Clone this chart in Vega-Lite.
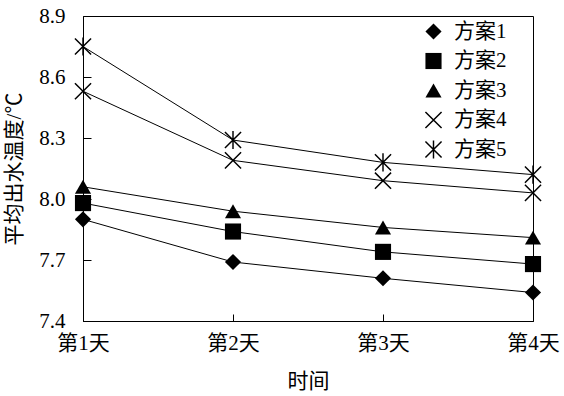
{
  "$schema": "https://vega.github.io/schema/vega-lite/v6.json",
  "width": 450,
  "height": 305,
  "autosize": {"type": "none"},
  "padding": {"left": 83, "top": 16, "right": 31, "bottom": 75},
  "background": "white",
  "data": {
    "values": [
      {"时间": "第1天", "方案": "方案1", "温度": 7.90},
      {"时间": "第2天", "方案": "方案1", "温度": 7.69},
      {"时间": "第3天", "方案": "方案1", "温度": 7.61},
      {"时间": "第4天", "方案": "方案1", "温度": 7.54},
      {"时间": "第1天", "方案": "方案2", "温度": 7.98},
      {"时间": "第2天", "方案": "方案2", "温度": 7.84},
      {"时间": "第3天", "方案": "方案2", "温度": 7.74},
      {"时间": "第4天", "方案": "方案2", "温度": 7.68},
      {"时间": "第1天", "方案": "方案3", "温度": 8.06},
      {"时间": "第2天", "方案": "方案3", "温度": 7.94},
      {"时间": "第3天", "方案": "方案3", "温度": 7.86},
      {"时间": "第4天", "方案": "方案3", "温度": 7.81},
      {"时间": "第1天", "方案": "方案4", "温度": 8.53},
      {"时间": "第2天", "方案": "方案4", "温度": 8.19},
      {"时间": "第3天", "方案": "方案4", "温度": 8.09},
      {"时间": "第4天", "方案": "方案4", "温度": 8.03},
      {"时间": "第1天", "方案": "方案5", "温度": 8.75},
      {"时间": "第2天", "方案": "方案5", "温度": 8.29},
      {"时间": "第3天", "方案": "方案5", "温度": 8.18},
      {"时间": "第4天", "方案": "方案5", "温度": 8.12}
    ]
  },
  "encoding": {
    "x": {
      "field": "时间", "type": "ordinal",
      "scale": {"type": "point", "padding": 0},
      "axis": {"title": "时间", "labelAngle": 0, "tickSize": -7, "labelPadding": 18, "titlePadding": 17}
    },
    "y": {
      "field": "温度", "type": "quantitative",
      "scale": {"domain": [7.4, 8.9], "zero": false, "nice": false},
      "axis": {"title": "平均出水温度/℃", "values": [7.4, 7.7, 8.0, 8.3, 8.6, 8.9], "format": ".1f", "tickSize": -8, "labelPadding": 26, "titlePadding": 14}
    }
  },
  "layer": [
    {
      "mark": {"type": "line", "color": "black", "strokeWidth": 1},
      "encoding": {"detail": {"field": "方案", "type": "nominal"}}
    },
    {
      "mark": {"type": "point", "filled": true, "fill": "black", "strokeWidth": 0, "opacity": 1, "size": 260},
      "encoding": {
        "shape": {
          "field": "方案", "type": "nominal",
          "scale": {
            "domain": ["方案1", "方案2", "方案3", "方案4", "方案5"],
            "range": [
              "diamond",
              "square",
              "triangle-up",
              "M-0.935,-1.065L1.065,0.935L0.935,1.065L-1.065,-0.935ZM-0.935,1.065L-1.065,0.935L0.935,-1.065L1.065,-0.935Z",
              "M-0.935,-1.065L1.065,0.935L0.935,1.065L-1.065,-0.935ZM-0.935,1.065L-1.065,0.935L0.935,-1.065L1.065,-0.935ZM-0.09,-1.12L0.09,-1.12L0.09,1.12L-0.09,1.12Z"
            ]
          },
          "legend": {
            "title": null, "orient": "none", "legendX": 340, "legendY": 5,
            "symbolFillColor": "black", "symbolStrokeColor": "black", "symbolStrokeWidth": 0,
            "symbolOpacity": 1, "symbolSize": 260, "rowPadding": 7.5, "labelOffset": 10,
            "encode": {"symbols": {"update": {"fill": {"value": "black"}, "opacity": {"value": 1}}}}
          }
        }
      }
    }
  ],
  "config": {
    "view": {"stroke": "black", "strokeWidth": 1},
    "font": "'Liberation Serif', 'Noto Sans CJK SC'",
    "axis": {
      "grid": false, "domainColor": "black", "tickColor": "black",
      "labelColor": "black", "titleColor": "black",
      "labelFont": "'Liberation Serif', 'Noto Sans CJK SC'", "titleFont": "'Liberation Serif', 'Noto Sans CJK SC'",
      "labelFontSize": 21, "titleFontSize": 21, "titleFontWeight": "normal"
    },
    "legend": {
      "labelFont": "'Liberation Serif', 'Noto Sans CJK SC'", "labelFontSize": 21, "labelColor": "black"
    }
  }
}
